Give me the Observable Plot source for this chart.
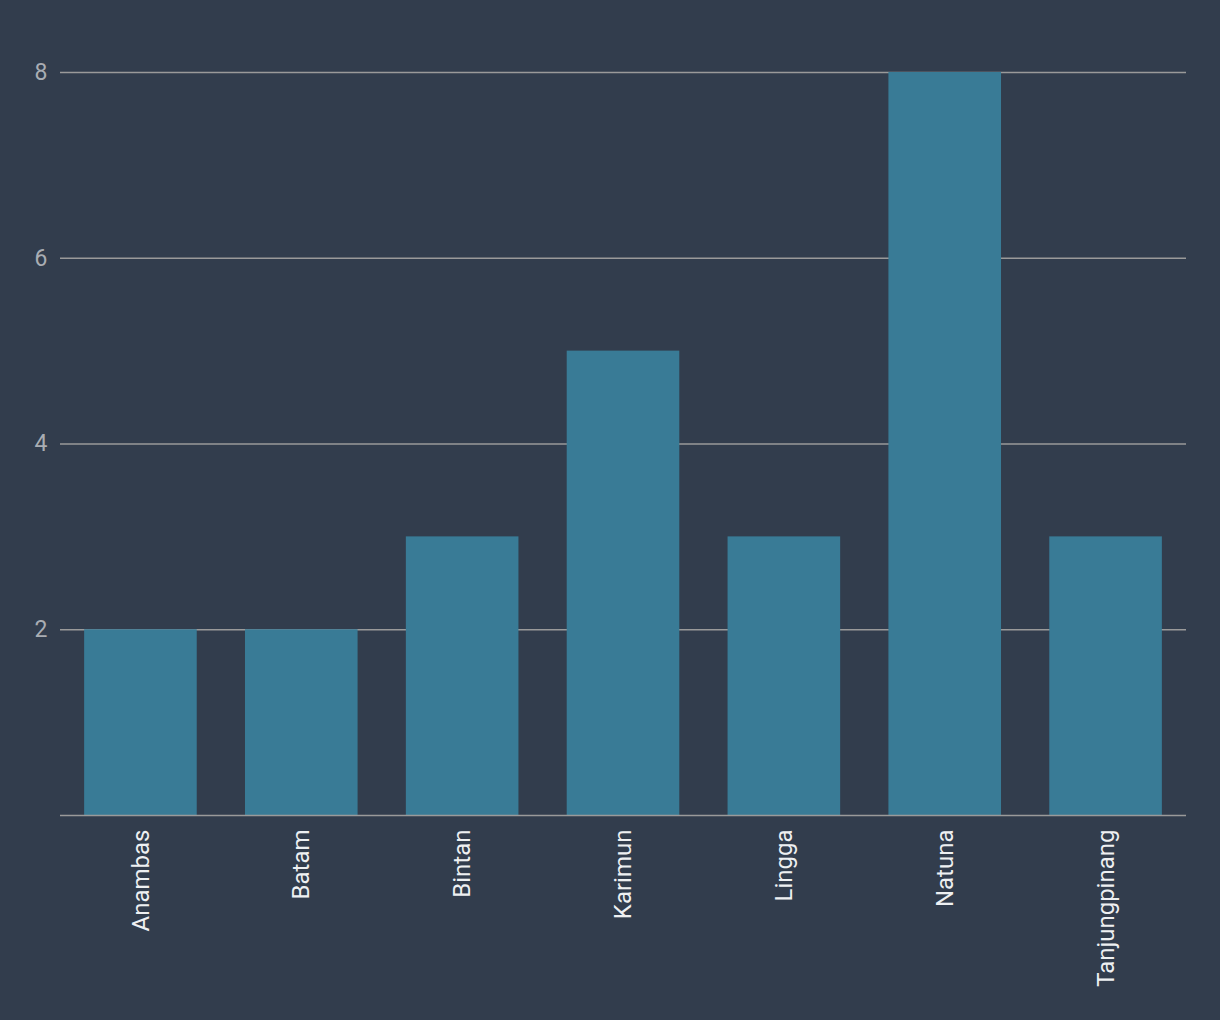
<!DOCTYPE html>
<html>
<head>
<meta charset="utf-8">
<script src="https://cdn.jsdelivr.net/npm/d3@7"></script>
<script src="https://cdn.jsdelivr.net/npm/@observablehq/plot@0.6"></script>
<style>
  html, body { margin: 0; padding: 0; background: #323d4d; }
  #chart { width: 1220px; height: 1020px; }
</style>
</head>
<body>
<div id="chart"></div>
<script>
const categories = ["Anambas", "Batam", "Bintan", "Karimun", "Lingga", "Natuna", "Tanjungpinang"];
const values = [2, 2, 3, 5, 3, 8, 3];
const yTicks = [2, 4, 6, 8];

const data = categories.map((c, i) => ({ name: c, value: values[i] }));

const chart = Plot.plot({
  width: 1220,
  height: 1020,
  marginLeft: 60,
  marginRight: 34,
  marginTop: 72,
  marginBottom: 205,
  style: { background: "#323d4d", fontFamily: "Roboto, sans-serif", fontSize: "24px" },
  x: { domain: categories, paddingInner: 0.3, paddingOuter: 0.15, round: false, label: null },
  y: { domain: [0, 8], label: null },
  marks: [
    Plot.gridY(yTicks, { stroke: "#9a9a9a", strokeOpacity: 1, strokeWidth: 1.5 }),
    Plot.barY(data, { x: "name", y: "value", fill: "#397b96" }),
    Plot.ruleY([0], { stroke: "#9a9a9a", strokeWidth: 1.5 }),
    Plot.axisY(yTicks, { tickSize: 0, tickPadding: 13, color: "#a9adb3", fontSize: 23, tickFormat: d3.format("d"), label: null }),
    Plot.axisX({ tickSize: 0, tickPadding: 14, tickRotate: -90, color: "#eef0f2", fontSize: 24, label: null })
  ]
});
document.getElementById("chart").appendChild(chart);
</script>
</body>
</html>
